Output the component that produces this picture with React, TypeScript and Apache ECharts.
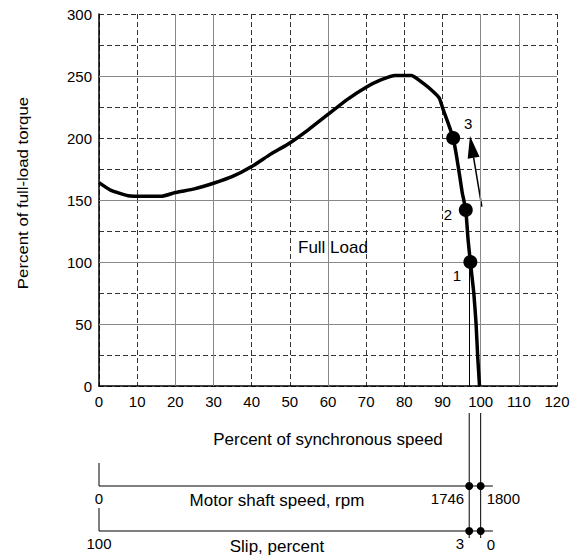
import React, { useEffect, useRef } from 'react';
import * as echarts from 'echarts';

// Torque-speed curve (percent of synchronous speed vs percent of full-load torque)
const speedPct = [0, 3, 7.6, 12, 16.4, 20, 25, 30, 35, 40, 45, 50, 55, 60, 65, 70, 74, 77.6, 81.9, 85, 87.6, 89.2, 90.2, 91.5, 92.8, 93.7, 94.6, 95.2, 96.1, 96.7, 97.3, 98.2, 98.8, 99.2, 99.7];
const torquePct = [164, 158, 153.5, 153, 153, 156, 159, 163.5, 169, 177, 187, 196, 207, 219, 231, 241, 247, 250.5, 250.5, 244, 237.3, 232, 222.6, 211.8, 200, 185, 167.5, 155.4, 142, 118, 100, 75, 50, 25, 0];

// Operating points
const pointSpeed = [92.8, 96.1, 97.3];
const pointTorque = [200, 142, 100];
const pointNames = ['3', '2', '1'];
const pointLabelSpeed = [96.7, 91.4, 93.8];
const pointLabelTorque = [212, 138, 89.5];

// Arrow
const arrowFrom = [100.3, 144.6];
const arrowTo = [97.2, 201.6];

// Full load label
const fullLoadText = 'Full Load';
const fullLoadPos = [61.3, 112];

// Solid (emphasised) grid lines
const solidGridX = [20, 30, 60, 100, 110];
const solidGridY = [50, 100, 150, 250];

// Secondary scales (in percent of synchronous speed)
const scaleEndPct = 103.2;
const scaleMarksPct = [97, 100];
const rpmLabels = ['0', '1746', '1800'];
const slipLabels = ['100', '3', '0'];

const FONT = "'Liberation Sans', Arial, Helvetica, sans-serif";

export default function App() {
  const ref = useRef<HTMLDivElement>(null);
  useEffect(() => {
    document.body.style.margin = '0';
    const chart = echarts.init(ref.current!, null, { renderer: 'svg' });
    chart.setOption({
      animation: false,
      grid: { left: 99, right: 25, top: 14, bottom: 171 },
      xAxis: {
        type: 'value', min: 0, max: 120, interval: 10,
        axisLine: { show: true, onZero: false, lineStyle: { color: '#000', width: 1.5 } },
        axisTick: { show: false },
        axisLabel: { color: '#000', fontSize: 15, fontFamily: FONT, margin: 8 },
        splitLine: { show: true, lineStyle: { color: '#333', type: [5, 3], width: 1 } },
        name: 'Percent of synchronous speed', nameLocation: 'middle', nameGap: 45,
        nameTextStyle: { color: '#000', fontSize: 17, fontFamily: FONT },
      },
      yAxis: {
        type: 'value', min: 0, max: 300, interval: 25,
        axisLine: { show: true, onZero: false, lineStyle: { color: '#000', width: 1.5 } },
        axisTick: { show: false },
        axisLabel: {
          color: '#000', fontSize: 15, fontFamily: FONT, margin: 7,
          formatter: (v: number) => (v % 50 === 0 ? String(v) : ''),
        },
        splitLine: { show: true, lineStyle: { color: '#333', type: [5, 3], width: 1 } },
      },
      series: [
        {
          type: 'line', data: [], z: 1, silent: true,
          markLine: {
            z: 1, silent: true, symbol: 'none', label: { show: false },
            lineStyle: { color: '#888', type: 'solid', width: 1 },
            data: [
              ...solidGridX.map((v) => ({ xAxis: v })),
              ...solidGridY.map((v) => ({ yAxis: v })),
            ],
          },
        },
        {
          type: 'line', z: 3,
          data: speedPct.map((x, i) => [x, torquePct[i]]),
          showSymbol: false, smooth: 0.15,
          lineStyle: { color: '#000', width: 3.5 },
          markLine: {
            z: 2, silent: true, symbol: 'none', label: { show: false },
            lineStyle: { color: '#000', type: 'solid', width: 1 },
            data: [[{ coord: [scaleMarksPct[0], pointTorque[2]] }, { coord: [scaleMarksPct[0], 0] }]],
          },
        },
        {
          type: 'scatter', z: 4, symbolSize: 14,
          itemStyle: { color: '#000', opacity: 1 },
          data: pointSpeed.map((x, i) => [x, pointTorque[i]]),
        },
        {
          type: 'scatter', z: 5, symbolSize: 0,
          itemStyle: { opacity: 1 },
          label: { show: true, position: 'inside', formatter: '{b}', color: '#000', fontSize: 15, fontFamily: FONT },
          data: pointNames.map((n, i) => ({ name: n, value: [pointLabelSpeed[i], pointLabelTorque[i]] })),
        },
        {
          type: 'scatter', z: 5, symbolSize: 0,
          itemStyle: { opacity: 1 },
          label: { show: true, position: 'inside', formatter: '{b}', color: '#000', fontSize: 17, fontFamily: FONT },
          data: [{ name: fullLoadText, value: fullLoadPos }],
        },
      ],
    });

    const px = (v: number) => chart.convertToPixel({ xAxisIndex: 0 }, v) as number;
    const pt = (x: number, y: number) => chart.convertToPixel({ gridIndex: 0 }, [x, y]) as number[];

    const tail = pt(arrowFrom[0], arrowFrom[1]);
    const tip = pt(arrowTo[0], arrowTo[1]);
    const dx = tip[0] - tail[0], dy = tip[1] - tail[1];
    const len = Math.hypot(dx, dy);
    const ux = dx / len, uy = dy / len;
    const headLen = 22, headHalf = 6;
    const base = [tip[0] - ux * headLen, tip[1] - uy * headLen];
    const nx = -uy, ny = ux;

    const x0 = px(0);
    const xEnd = px(scaleEndPct);
    const xa = px(scaleMarksPct[0]);
    const xb = px(scaleMarksPct[1]);
    const lineStyle = { stroke: '#000', lineWidth: 1 };
    const textEl = (t: string, x: number, y: number, align: string, size = 15) => ({
      type: 'text', x, y,
      style: { text: t, fill: '#000', font: `${size}px ${FONT}`, align, verticalAlign: 'middle' },
    });

    const rowY = [486, 531];
    const graphics: any[] = [
      { type: 'line', shape: { x1: tail[0], y1: tail[1], x2: base[0], y2: base[1] }, style: { stroke: '#000', lineWidth: 1.5 } },
      {
        type: 'polygon',
        shape: { points: [tip, [base[0] + nx * headHalf, base[1] + ny * headHalf], [base[0] - nx * headHalf, base[1] - ny * headHalf]] },
        style: { fill: '#000' },
      },
      {
        type: 'text', x: 23, y: 193, rotation: Math.PI / 2, scaleX: 1.2,
        style: { text: 'Percent of full-load torque', fill: '#000', font: `14px ${FONT}`, align: 'center', verticalAlign: 'middle' },
      },
      { type: 'line', shape: { x1: xa, y1: 413, x2: xa, y2: 538 }, style: lineStyle },
      { type: 'line', shape: { x1: xb, y1: 413, x2: xb, y2: 538 }, style: lineStyle },
    ];
    rowY.forEach((y) => {
      graphics.push({ type: 'line', shape: { x1: x0, y1: y - 23, x2: x0, y2: y }, style: lineStyle });
      graphics.push({ type: 'line', shape: { x1: x0, y1: y, x2: xEnd, y2: y }, style: lineStyle });
      graphics.push({ type: 'circle', shape: { cx: xa, cy: y, r: 4 }, style: { fill: '#000' } });
      graphics.push({ type: 'circle', shape: { cx: xb, cy: y, r: 4 }, style: { fill: '#000' } });
    });
    graphics.push(textEl(rpmLabels[0], x0, 498, 'center'));
    graphics.push(textEl('Motor shaft speed, rpm', 277, 500, 'center', 17));
    graphics.push(textEl(rpmLabels[1], xa - 5, 498, 'right'));
    graphics.push(textEl(rpmLabels[2], xb + 6, 498, 'left'));
    graphics.push(textEl(slipLabels[0], x0, 543, 'center'));
    graphics.push(textEl('Slip, percent', 277, 546, 'center', 17));
    graphics.push(textEl(slipLabels[1], xa - 5, 543, 'right'));
    graphics.push(textEl(slipLabels[2], xb + 6, 544, 'left'));

    chart.setOption({ graphic: graphics });
    return () => chart.dispose();
  }, []);
  return <div ref={ref} style={{ width: 582, height: 557 }} />;
}
